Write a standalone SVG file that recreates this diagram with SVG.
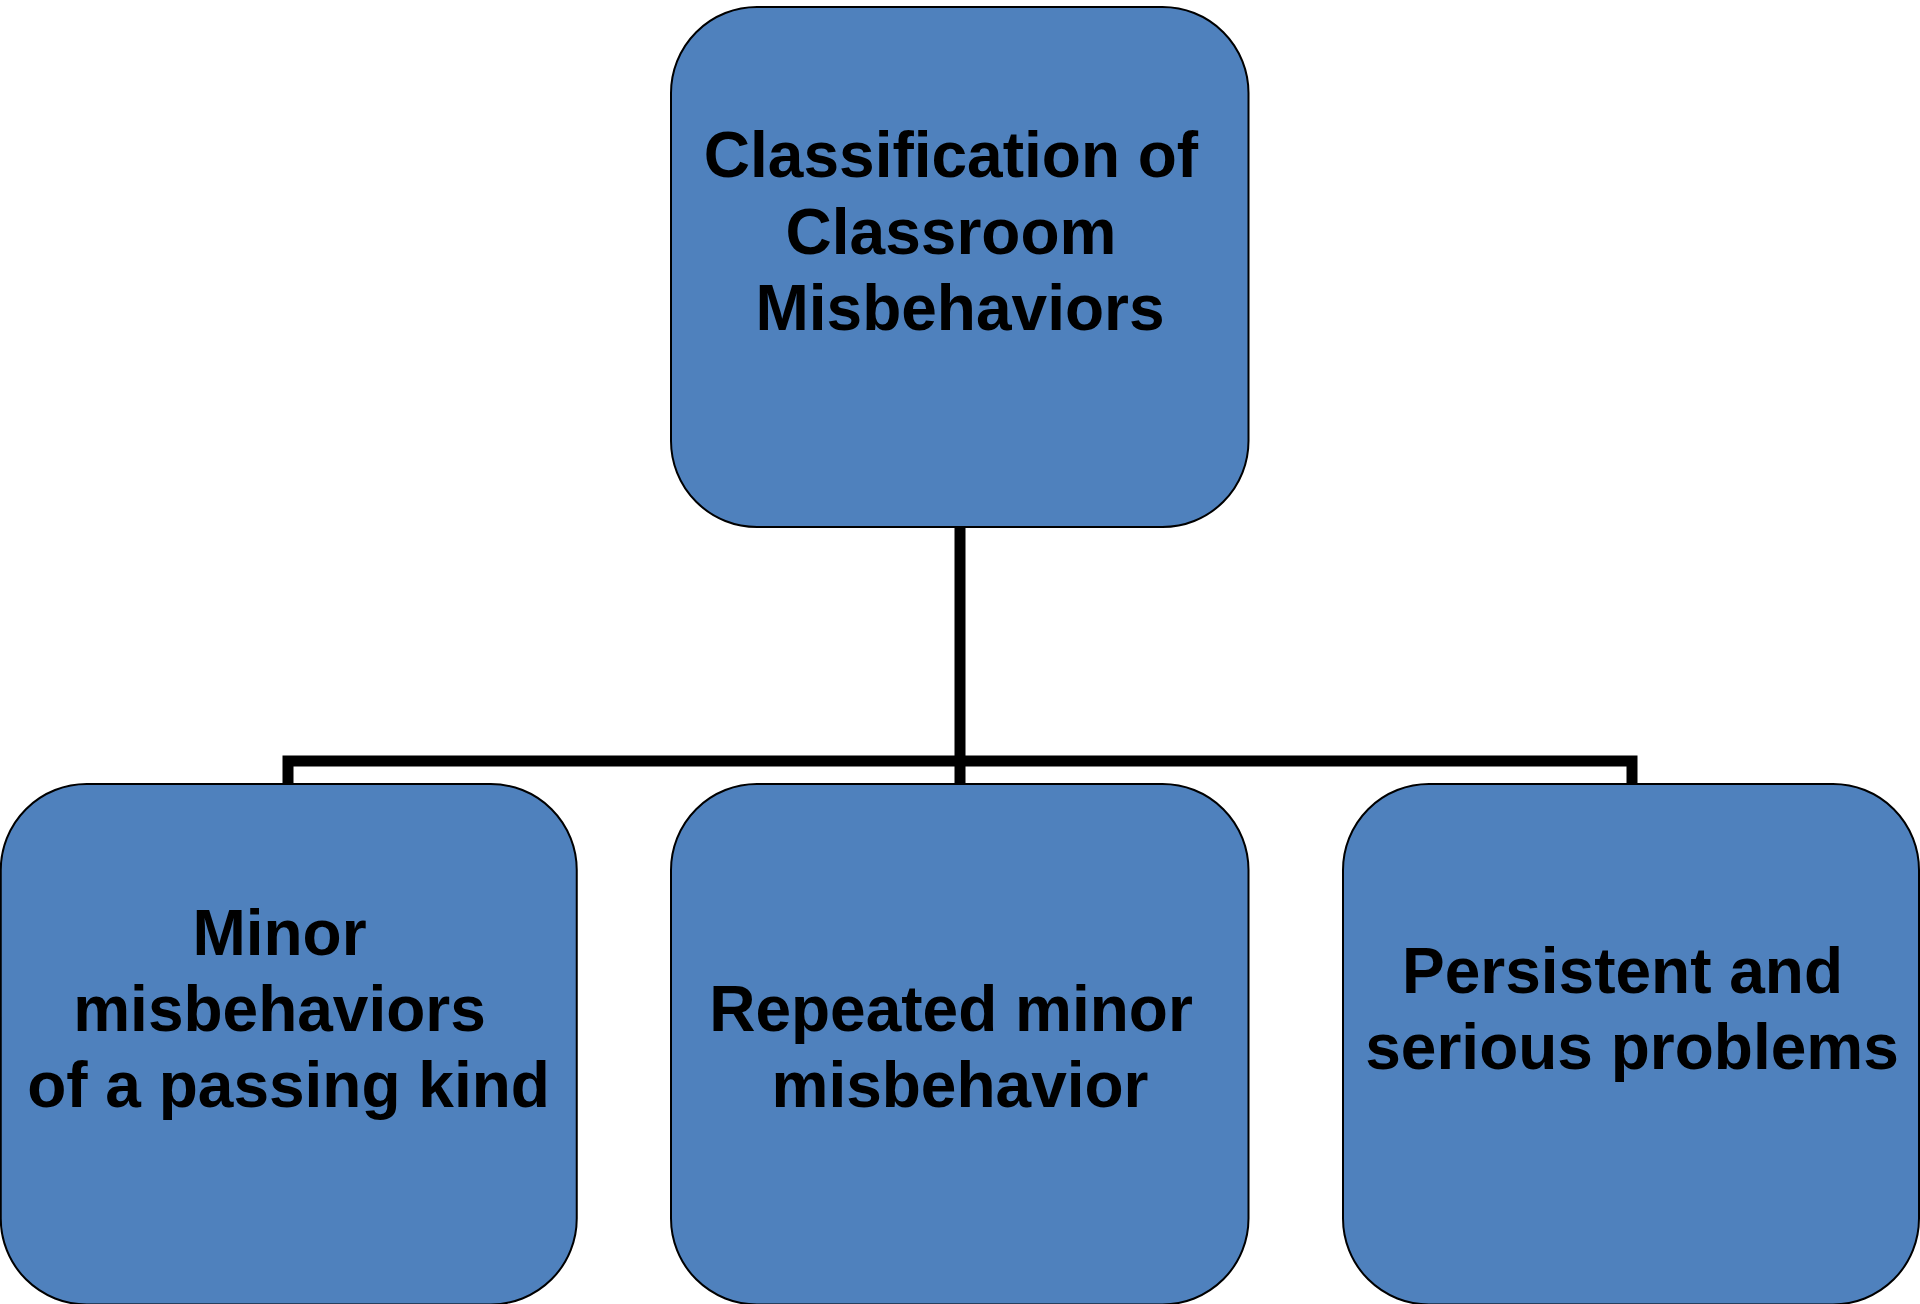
<svg xmlns="http://www.w3.org/2000/svg" width="1920" height="1304" viewBox="0 0 1920 1304">
  <style>
    .box { fill: #4F81BD; stroke: #000000; stroke-width: 2; }
    .lbl { font-family: "Liberation Sans", Arial, sans-serif; font-weight: bold; font-size: 64px; fill: #000000; text-anchor: middle; }
    .conn { fill: none; stroke: #000000; stroke-width: 11; stroke-linejoin: miter; stroke-linecap: butt; }
  </style>
  <rect width="1920" height="1304" fill="#FFFFFF"/>

  <!-- hierarchy connectors -->
  <g id="connectors">
    <path class="conn" d="M960,527 V784"/>
    <path class="conn" d="M288,784 V761 H1632 V784"/>
  </g>

  <!-- root node -->
  <g id="node-root">
    <rect class="box" x="671" y="7" width="577.5" height="520" rx="86" ry="86"/>
    <text class="lbl" x="951" y="177">Classification of</text>
    <text class="lbl" x="951" y="253.5">Classroom</text>
    <text class="lbl" x="960" y="330">Misbehaviors</text>
  </g>

  <!-- child: minor misbehaviors -->
  <g id="node-minor">
    <rect class="box" x="0.75" y="784" width="576" height="520.5" rx="86" ry="86"/>
    <text class="lbl" x="279.5" y="955">Minor</text>
    <text class="lbl" x="279.5" y="1031">misbehaviors</text>
    <text class="lbl" x="288.5" y="1107">of a passing kind</text>
  </g>

  <!-- child: repeated minor misbehavior -->
  <g id="node-repeated">
    <rect class="box" x="671" y="784" width="577.5" height="520.5" rx="86" ry="86"/>
    <text class="lbl" x="951" y="1031">Repeated minor</text>
    <text class="lbl" x="960" y="1107">misbehavior</text>
  </g>

  <!-- child: persistent and serious problems -->
  <g id="node-persistent">
    <rect class="box" x="1343" y="784" width="576" height="520.5" rx="86" ry="86"/>
    <text class="lbl" x="1622.5" y="992.5">Persistent and</text>
    <text class="lbl" x="1632" y="1069">serious problems</text>
  </g>
</svg>
